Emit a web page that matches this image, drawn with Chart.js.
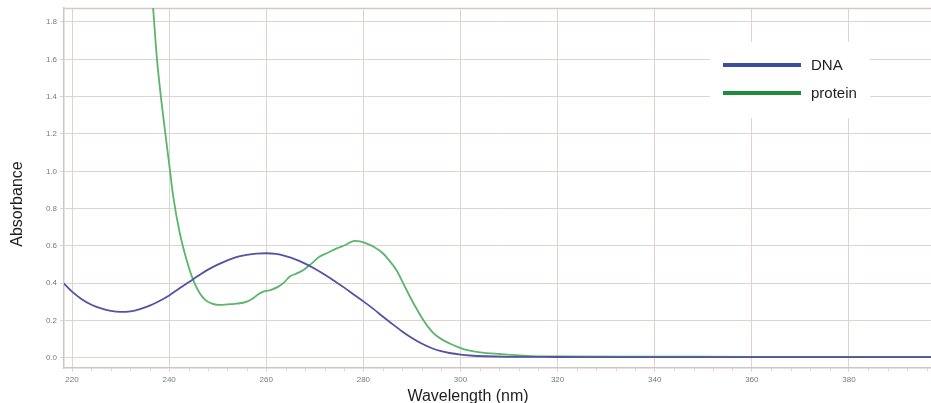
<!DOCTYPE html>
<html>
<head>
<meta charset="utf-8">
<script src="https://cdn.jsdelivr.net/npm/chart.js@4"></script>
<style>
html,body{margin:0;padding:0;background:#fff;}
#wrap{width:931px;height:403px;position:relative;}
</style>
</head>
<body>
<div id="wrap"><canvas id="c" width="931" height="403"></canvas></div>
<script>
// ---- data ----
const seriesNames = ["DNA", "protein"];
const xTickLabels = [220, 240, 260, 280, 300, 320, 340, 360, 380];
const yTickLabels = [0.0, 0.2, 0.4, 0.6, 0.8, 1.0, 1.2, 1.4, 1.6, 1.8];
const axisTitleX = "Wavelength (nm)";
const axisTitleY = "Absorbance";

const dnaWavelength = [218.3, 220, 222, 224, 226, 228, 230, 232, 234, 236, 238, 240, 242, 244, 246, 248, 250, 252, 254, 256, 258, 260, 262, 264, 266, 268, 270, 272, 274, 276, 278, 280, 282, 284, 286, 288, 290, 292, 294, 296, 298, 300, 302, 305, 310, 320, 340, 360, 380, 397];
const dnaAbsorbance = [0.40, 0.355, 0.315, 0.285, 0.265, 0.252, 0.247, 0.250, 0.262, 0.280, 0.305, 0.335, 0.370, 0.405, 0.440, 0.473, 0.500, 0.523, 0.541, 0.552, 0.559, 0.561, 0.557, 0.545, 0.528, 0.505, 0.478, 0.447, 0.413, 0.378, 0.340, 0.303, 0.264, 0.222, 0.181, 0.142, 0.107, 0.077, 0.053, 0.036, 0.025, 0.018, 0.013, 0.009, 0.006, 0.005, 0.004, 0.004, 0.004, 0.004];

const proteinWavelength = [235, 236.7, 237.5, 238.8, 240.2, 240.85, 242.2, 243.6, 244.95, 246.3, 247.5, 249, 250.5, 252, 253.5, 254.6, 256, 257.3, 258.3, 259.4, 261, 262.5, 263.7, 264.8, 266.2, 267.6, 269.3, 271.0, 272.8, 274.5, 276.3, 277.5, 278.2, 279.3, 280.6, 282.3, 284.0, 285.4, 286.8, 288.2, 289.6, 290.9, 292.3, 294, 295, 296.5, 297.8, 299.5, 301.2, 304, 308.1, 314.9, 320, 340, 360, 380, 397];
const proteinAbsorbance = [2.4, 1.875, 1.60, 1.29, 1.0, 0.864, 0.668, 0.525, 0.418, 0.347, 0.310, 0.290, 0.284, 0.287, 0.290, 0.293, 0.302, 0.320, 0.340, 0.355, 0.365, 0.382, 0.405, 0.435, 0.452, 0.470, 0.505, 0.543, 0.565, 0.587, 0.605, 0.622, 0.627, 0.625, 0.614, 0.593, 0.561, 0.520, 0.471, 0.400, 0.328, 0.266, 0.205, 0.145, 0.120, 0.094, 0.077, 0.058, 0.043, 0.030, 0.021, 0.010, 0.008, 0.007, 0.006, 0.006, 0.006];

const toPoints = (xs, ys) => xs.map((x, i) => ({x: x, y: ys[i]}));

const gridColor = '#ddd4d0';
const lineColors = ['#5253a3', '#5cb56c'];
const legendColors = ['#3c4e9e', '#1e8c3c'];

const frame = {
  id: 'frame',
  beforeDatasetsDraw(chart) {
    const {ctx, chartArea, scales} = chart;
    ctx.save();
    ctx.strokeStyle = '#d2cac6';
    ctx.lineWidth = 1.5;
    ctx.beginPath();
    ctx.moveTo(chartArea.left, chartArea.top + 0.5);
    ctx.lineTo(chartArea.right, chartArea.top + 0.5);
    ctx.stroke();
    ctx.strokeStyle = gridColor;
    ctx.lineWidth = 1;
    const xs = scales.x;
    for (let v = 220; v <= xs.max; v += 4) {
      if (v % 20 === 0) continue;
      const px = Math.round(xs.getPixelForValue(v)) + 0.5;
      ctx.beginPath();
      ctx.moveTo(px, chartArea.bottom);
      ctx.lineTo(px, chartArea.bottom + 3);
      ctx.stroke();
    }
    ctx.restore();
  },
  afterDraw(chart) {
    const {ctx} = chart;
    ctx.save();
    ctx.fillStyle = '#1e1e1e';
    ctx.font = '16px "Liberation Sans", Arial, sans-serif';
    ctx.textAlign = 'center';
    ctx.textBaseline = 'alphabetic';
    ctx.fillText(axisTitleX, 468, 401);
    ctx.save();
    ctx.translate(22, 204);
    ctx.rotate(-Math.PI / 2);
    ctx.fillText(axisTitleY, 0, 0);
    ctx.restore();
    ctx.fillStyle = '#ffffff';
    ctx.fillRect(710, 42, 160, 76);
    const rows = [65, 93];
    chart.data.datasets.forEach((ds, i) => {
      ctx.strokeStyle = legendColors[i];
      ctx.lineWidth = 4;
      ctx.beginPath();
      ctx.moveTo(723, rows[i]);
      ctx.lineTo(801, rows[i]);
      ctx.stroke();
      ctx.fillStyle = '#1e1e1e';
      ctx.font = '15px "Liberation Sans", Arial, sans-serif';
      ctx.textAlign = 'left';
      ctx.textBaseline = 'middle';
      ctx.fillText(ds.label, 811, rows[i] + 0.5);
    });
    ctx.restore();
  }
};

new Chart(document.getElementById('c'), {
  type: 'line',
  data: {
    datasets: [
      {label: seriesNames[0], data: toPoints(dnaWavelength, dnaAbsorbance), borderColor: lineColors[0], borderWidth: 1.8, pointRadius: 0, cubicInterpolationMode: 'monotone', fill: false},
      {label: seriesNames[1], data: toPoints(proteinWavelength, proteinAbsorbance), borderColor: lineColors[1], borderWidth: 1.8, pointRadius: 0, cubicInterpolationMode: 'monotone', fill: false}
    ]
  },
  options: {
    responsive: false,
    animation: false,
    events: [],
    layout: {padding: {top: 8, left: 0, right: 0, bottom: 0}},
    plugins: {legend: {display: false}, tooltip: {enabled: false}},
    scales: {
      x: {
        type: 'linear',
        min: 218.35,
        max: 396.9,
        afterBuildTicks: (s) => { s.ticks = xTickLabels.map(v => ({value: v})); },
        afterFit: (s) => { s.height = 35; },
        grid: {color: gridColor, tickLength: 4, tickColor: gridColor},
        border: {display: true, color: '#cfc6c2', width: 1.5},
        ticks: {color: '#7a7a7a', font: {size: 8, family: '"Liberation Sans", Arial, sans-serif'}, padding: 3, maxRotation: 0, callback: (v) => String(v)}
      },
      y: {
        type: 'linear',
        min: -0.054,
        max: 1.875,
        afterBuildTicks: (s) => { s.ticks = yTickLabels.map(v => ({value: v})); },
        afterFit: (s) => { s.width = 64; },
        grid: {color: gridColor, tickLength: 4, tickColor: gridColor},
        border: {display: true, color: '#cfc6c2', width: 1.5},
        ticks: {color: '#7a7a7a', font: {size: 8, family: '"Liberation Sans", Arial, sans-serif'}, padding: 3, callback: (v) => Number(v).toFixed(1)}
      }
    }
  },
  plugins: [frame]
});
</script>
</body>
</html>
